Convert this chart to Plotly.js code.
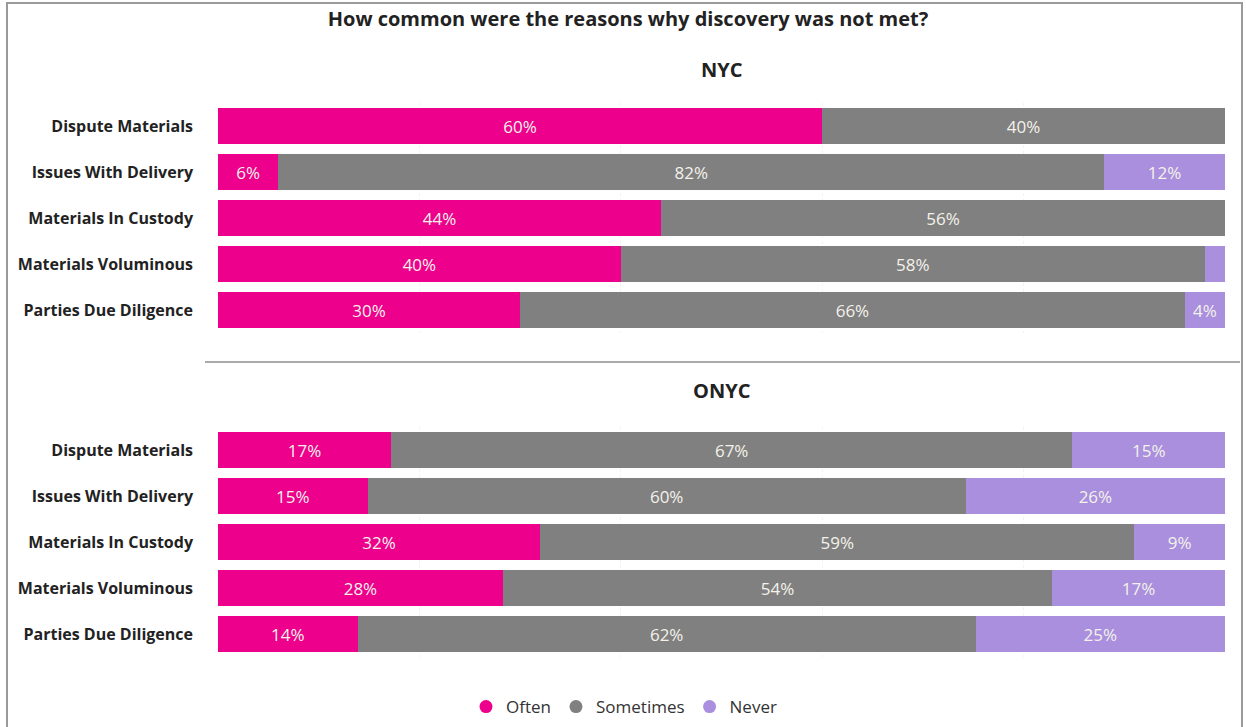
<!DOCTYPE html>
<html>
<head>
<meta charset="utf-8">
<script src="https://cdn.plot.ly/plotly-3.0.1.min.js"></script>
<style>html,body{margin:0;padding:0;background:#fff;}#chart{width:1246px;height:727px;}</style>
</head>
<body>
<div id="chart"></div>
<script>
const categories = ["Dispute Materials", "Issues With Delivery", "Materials In Custody", "Materials Voluminous", "Parties Due Diligence"];
const seriesNames = ["Often", "Sometimes", "Never"];
const seriesColors = ["#EC008C", "#808080", "#A98FDD"];

const nycOften = [60, 6, 44, 40, 30];
const nycSometimes = [40, 82, 56, 58, 66];
const nycNever = [0, 12, 0, 2, 4];

const onycOften = [17, 15, 32, 28, 14];
const onycSometimes = [67, 60, 59, 54, 62];
const onycNever = [15, 26, 9, 17, 25];

const W = 1246, H = 727;
const L = 218, R = 21;
const px = x => (x - L) / (W - L - R);
const py = y => 1 - y / H;

const fontFam = "'Open Sans', 'DejaVu Sans', sans-serif";

function label(v) { return v >= 3 ? v + '%' : ''; }

const groups = [
  {vals: [nycOften, nycSometimes, nycNever], xa: 'x', ya: 'y'},
  {vals: [onycOften, onycSometimes, onycNever], xa: 'x2', ya: 'y2'}
];

const traces = [];
groups.forEach(g => {
  g.vals.forEach((arr, i) => {
    traces.push({
      type: 'bar', orientation: 'h',
      x: arr, y: categories,
      xaxis: g.xa, yaxis: g.ya,
      name: seriesNames[i],
      marker: {color: seriesColors[i]},
      text: arr.map(label),
      textposition: 'inside',
      insidetextanchor: 'middle',
      textangle: 0,
      constraintext: 'none',
      textfont: {family: fontFam, size: 17, color: '#F4F2EA'},
      hoverinfo: 'x+y+name',
      showlegend: false
    });
  });
});
seriesNames.forEach((n, i) => {
  traces.push({
    type: 'scatter', mode: 'markers', x: [null], y: [null],
    name: n, marker: {color: seriesColors[i], size: 13, symbol: 'circle'},
    showlegend: true, xaxis: 'x', yaxis: 'y'
  });
});

const xaxisBase = {
  range: [0, 100], showticklabels: false, zeroline: false,
  showgrid: true, gridcolor: '#f2f2f2', griddash: 'dot', dtick: 20,
  fixedrange: true
};
const yaxisBase = {
  type: 'category', autorange: 'reversed', showgrid: false, zeroline: false,
  ticks: '', ticklabelstandoff: 24,
  tickfont: {family: fontFam, size: 16, color: '#222', weight: 'bold'},
  fixedrange: true
};

const layout = {
  width: W, height: H,
  margin: {l: L, r: R, t: 0, b: 0},
  paper_bgcolor: '#fff', plot_bgcolor: '#fff',
  barmode: 'stack', barnorm: 'percent', bargap: 0.22,
  font: {family: fontFam},
  title: {
    text: '<b>How common were the reasons why discovery was not met?</b>',
    font: {family: fontFam, size: 20, color: '#222'},
    x: 628 / W, xanchor: 'center', xref: 'container',
    y: 1 - 19 / H, yanchor: 'middle', yref: 'container'
  },
  xaxis: Object.assign({}, xaxisBase, {domain: [0, 1], anchor: 'y'}),
  yaxis: Object.assign({}, yaxisBase, {domain: [py(333), py(103)], anchor: 'x'}),
  xaxis2: Object.assign({}, xaxisBase, {domain: [0, 1], anchor: 'y2'}),
  yaxis2: Object.assign({}, yaxisBase, {domain: [py(657), py(427)], anchor: 'x2'}),
  annotations: [
    {text: '<b>NYC</b>', xref: 'paper', yref: 'paper', x: 0.5, y: py(70), xanchor: 'center', yanchor: 'middle', showarrow: false, font: {family: fontFam, size: 20, color: '#222'}},
    {text: '<b>ONYC</b>', xref: 'paper', yref: 'paper', x: 0.5, y: py(390), xanchor: 'center', yanchor: 'middle', showarrow: false, font: {family: fontFam, size: 20, color: '#222'}}
  ],
  shapes: [
    {type: 'line', xref: 'paper', yref: 'paper', x0: px(205), x1: px(1240), y0: py(362), y1: py(362), line: {color: '#aaaaaa', width: 2}},
    {type: 'rect', xref: 'paper', yref: 'paper', x0: px(7), x1: px(1242), y0: py(740), y1: py(3), line: {color: '#9a9a9a', width: 2}, fillcolor: 'rgba(0,0,0,0)'}
  ],
  legend: {
    orientation: 'h', traceorder: 'normal', x: px(624), xanchor: 'center', y: py(707), yanchor: 'middle',
    font: {family: fontFam, size: 17, color: '#333'},
    itemwidth: 30, tracegroupgap: 0, bgcolor: 'rgba(0,0,0,0)'
  },
  hovermode: 'closest'
};

Plotly.newPlot('chart', traces, layout, {displayModeBar: false, staticPlot: false});
</script>
</body>
</html>
